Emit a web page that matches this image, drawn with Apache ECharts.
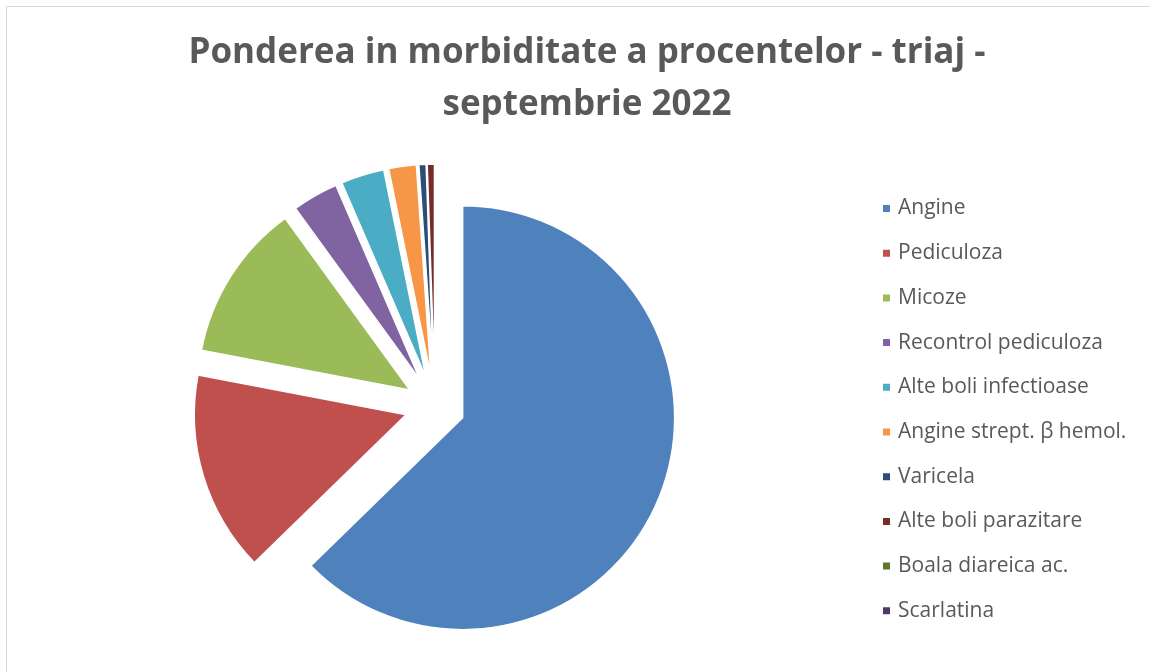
<!DOCTYPE html>
<html>
<head>
<meta charset="utf-8">
<script src="https://cdn.jsdelivr.net/npm/echarts@6/dist/echarts.min.js"></script>
<style>
  html, body { margin: 0; padding: 0; background: #fff; }
  #frame { position: absolute; left: 6px; top: 6px; width: 1160px; height: 700px; border: 1px solid #d9d9d9; box-sizing: border-box; }
  #chart { position: absolute; left: 0; top: 0; width: 1150px; height: 672px; }
</style>
</head>
<body>
<div id="frame"></div>
<div id="chart"></div>
<script>
const titleText = "Ponderea in morbiditate a procentelor - triaj -\nseptembrie 2022";
const categories = [
  "Angine",
  "Pediculoza",
  "Micoze",
  "Recontrol pediculoza",
  "Alte boli infectioase",
  "Angine strept. \u03b2 hemol.",
  "Varicela",
  "Alte boli parazitare",
  "Boala diareica ac.",
  "Scarlatina"
];
const values = [62.7, 15.3, 12.0, 3.5, 3.3, 2.1, 0.55, 0.55, 0, 0];
const colors = ["#4F81BD", "#C0504D", "#9BBB59", "#8064A2", "#4BACC6", "#F79646", "#2C4D75", "#772C2A", "#5F7530", "#4D3B62"];

const chart = echarts.init(document.getElementById('chart'), null, { renderer: 'canvas' });
chart.setOption({
  animation: false,
  color: colors,
  title: {
    text: titleText,
    left: 582,
    textAlign: 'center',
    top: 22,
    textStyle: {
      fontFamily: '"Open Sans", sans-serif',
      fontWeight: 'bold',
      fontSize: 35,
      lineHeight: 52,
      color: '#595959'
    }
  },
  legend: {
    orient: 'vertical',
    left: 876,
    top: 193,
    icon: 'rect',
    itemWidth: 9,
    itemHeight: 9,
    itemGap: 23.7,
    selectedMode: false,
    textStyle: {
      fontFamily: '"Open Sans", sans-serif',
      fontSize: 21,
      lineHeight: 21,
      color: '#595959',
      padding: [0, 0, 0, 2]
    },
    data: categories
  },
  series: [{
    type: 'pie',
    center: [435, 406],
    radius: [0, 212],
    startAngle: 90,
    clockwise: true,
    selectedMode: 'multiple',
    selectedOffset: 30,
    silent: true,
    avoidLabelOverlap: false,
    label: { show: false },
    labelLine: { show: false },
    emphasis: { disabled: true },
    itemStyle: { borderColor: '#ffffff', borderWidth: 1.5 },
    data: categories.map((name, i) => ({ name: name, value: values[i], selected: true }))
  }]
});
</script>
</body>
</html>
